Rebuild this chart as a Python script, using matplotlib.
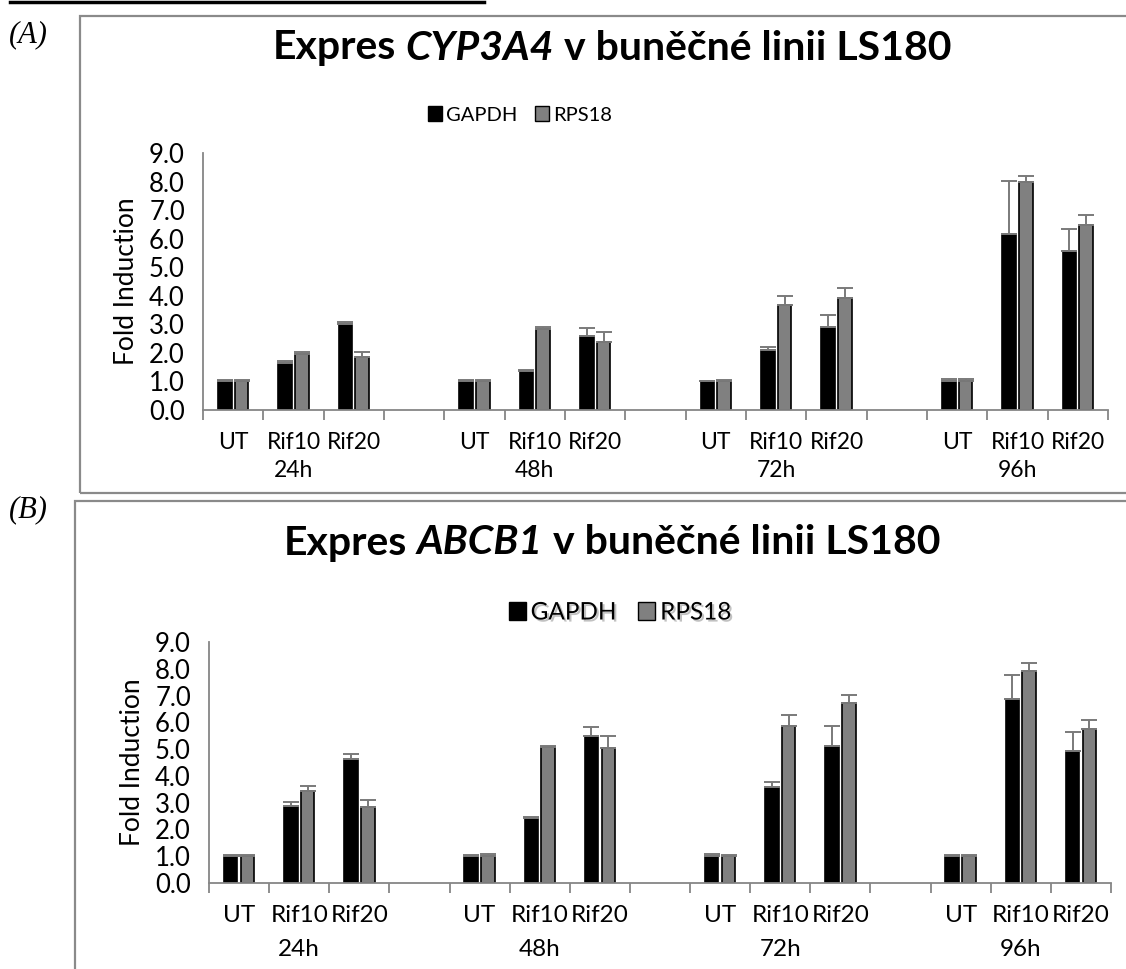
import numpy as np
import matplotlib.pyplot as plt
import matplotlib.patheffects as pe
from matplotlib.patches import Rectangle, Patch
from matplotlib.lines import Line2D

plt.rcParams['font.family'] = ['Lato', 'DejaVu Sans']

W, H = 1126, 969

treatments = ['UT', 'Rif10', 'Rif20']
times = ['24h', '48h', '72h', '96h']
series = ['GAPDH', 'RPS18']

# panel A - CYP3A4
cyp_gapdh = [1.00, 1.66, 3.01, 1.03, 1.38, 2.60, 1.02, 2.09, 2.91, 1.00, 6.16, 5.58]
cyp_gapdh_err = [0.06, 0.07, 0.08, 0.02, 0.03, 0.28, 0.01, 0.11, 0.43, 0.09, 1.86, 0.77]
cyp_rps18 = [1.02, 1.95, 1.87, 1.03, 2.83, 2.39, 1.03, 3.69, 3.92, 1.03, 7.97, 6.49]
cyp_rps18_err = [0.03, 0.09, 0.15, 0.03, 0.09, 0.35, 0.01, 0.29, 0.34, 0.07, 0.21, 0.34]

# panel B - ABCB1
abc_gapdh = [0.99, 2.89, 4.62, 0.99, 2.42, 5.50, 0.99, 3.58, 5.13, 0.99, 6.88, 4.94]
abc_gapdh_err = [0.07, 0.14, 0.19, 0.06, 0.03, 0.31, 0.10, 0.21, 0.72, 0.06, 0.88, 0.70]
abc_rps18 = [1.02, 3.43, 2.85, 1.02, 5.09, 5.04, 1.02, 5.85, 6.74, 1.02, 7.91, 5.76]
abc_rps18_err = [0.02, 0.21, 0.25, 0.06, 0.03, 0.44, 0.03, 0.42, 0.28, 0.01, 0.31, 0.31]

AXIS = '#868686'
GREY = '#808080'


def fx(px):
    return px / W


def fy(py):
    return 1 - py / H


fig = plt.figure(figsize=(W / 100, H / 100), dpi=100)
renderer = fig.canvas.get_renderer()


def title_parts(cx, cy, gene, size):
    # bold title, gene name in bold italic
    parts = [('Expres', 'normal'), (gene, 'italic'), ('v buněčné linii LS180', 'normal')]
    p1 = fig.text(0, 0, 'a a', fontsize=size, fontweight='bold')
    p2 = fig.text(0, 0, 'aa', fontsize=size, fontweight='bold')
    space = p1.get_window_extent(renderer).width - p2.get_window_extent(renderer).width
    p1.remove()
    p2.remove()
    texts, widths = [], []
    for s, style in parts:
        t = fig.text(0, fy(cy), s, fontsize=size, fontweight='bold', fontstyle=style,
                     ha='left', va='center')
        texts.append(t)
        widths.append(t.get_window_extent(renderer).width)
    x = cx - (sum(widths) + space * (len(parts) - 1)) / 2
    for t, w in zip(texts, widths):
        t.set_x(fx(x))
        x += w + space


def panel(left, right, top, bottom, gapdh, gerr, rps, rerr, gene,
          title_y, group_y, xfont, legend_x, legend_y, legend_size, shadow):
    ax = fig.add_axes([fx(left), fy(bottom), fx(right - left), (bottom - top) / H])
    ncat = 4 * len(times) - 1
    pos = np.array([4 * g + t for g in range(len(times)) for t in range(len(treatments))])
    w = 0.225
    off = 0.14
    ax.bar(pos - off, gapdh, w, color='black', edgecolor='black', linewidth=1.2, zorder=2)
    ax.bar(pos + off, rps, w, color=GREY, edgecolor='black', linewidth=1.2, zorder=2)
    ax.errorbar(pos - off, gapdh, yerr=[np.zeros(len(gerr)), gerr], fmt='none',
                ecolor='#7a7a7a', elinewidth=1.4, capsize=6, capthick=1.4, zorder=3)
    ax.errorbar(pos + off, rps, yerr=[np.zeros(len(rerr)), rerr], fmt='none',
                ecolor='#7a7a7a', elinewidth=1.4, capsize=6, capthick=1.4, zorder=3)

    ax.set_xlim(-0.5, ncat - 0.5)
    ax.set_ylim(0, 9)
    ax.set_yticks(np.arange(0, 10, 1))
    ax.set_yticklabels(['%.1f' % v for v in np.arange(0, 10, 1)], fontsize=18.5)
    ax.tick_params(axis='y', length=0, pad=13)

    ax.set_xticks(np.arange(-0.5, ncat, 1))
    ax.set_xticklabels([])
    ax.tick_params(axis='x', which='major', length=7, width=1.3, color=AXIS, direction='out')
    ax.set_xticks(pos, minor=True)
    ax.set_xticklabels(treatments * len(times), minor=True, fontsize=xfont)
    ax.tick_params(axis='x', which='minor', length=0, pad=16)

    for i, tm in enumerate(times):
        ax.text(4 * i + 1, -(group_y - bottom) / (bottom - top), tm, fontsize=xfont,
                ha='center', va='center', transform=ax.get_xaxis_transform())

    for s in ['top', 'right']:
        ax.spines[s].set_visible(False)
    for s in ['left', 'bottom']:
        ax.spines[s].set_color(AXIS)
        ax.spines[s].set_linewidth(1.3)

    fig.text(fx(left - 76), fy((top + bottom) / 2), 'Fold Induction', fontsize=19,
             rotation=90, ha='center', va='center')

    title_parts(612, title_y, gene, 29.5)

    handles = [Patch(facecolor='black', edgecolor='black', label=series[0]),
               Patch(facecolor=GREY, edgecolor='black', label=series[1])]
    leg = ax.legend(handles=handles, loc='center', bbox_to_anchor=(fx(legend_x), fy(legend_y)),
                    bbox_transform=fig.transFigure, ncol=2, frameon=False,
                    fontsize=legend_size, handlelength=0.7, handleheight=0.7,
                    handletextpad=0.2, columnspacing=0.9, borderpad=0)
    if shadow:
        for t in leg.get_texts():
            t.set_path_effects([pe.withSimplePatchShadow(offset=(1.5, -1.5),
                                                         shadow_rgbFace='#999999', alpha=0.6)])
    return ax


panel(203, 1108, 153, 410, cyp_gapdh, cyp_gapdh_err, cyp_rps18, cyp_rps18_err,
      'CYP3A4', 48, 470, 16.5, 520, 115, 14.5, False)
panel(209, 1111, 642, 883, abc_gapdh, abc_gapdh_err, abc_rps18, abc_rps18_err,
      'ABCB1', 543, 950, 17.5, 620, 613, 17.5, True)

# chart frames and the rule on top
fig.add_artist(Rectangle((fx(80), fy(493)), fx(1200 - 80), (493 - 16) / H, fill=False,
                         edgecolor='#8a8a8a', linewidth=1.6, transform=fig.transFigure))
fig.add_artist(Rectangle((fx(75), fy(1100)), fx(1200 - 75), (1100 - 501) / H, fill=False,
                         edgecolor='#8a8a8a', linewidth=1.6, transform=fig.transFigure))
fig.add_artist(Line2D([fx(10), fx(484)], [fy(2), fy(2)], color='black', linewidth=2.5,
                      transform=fig.transFigure))

fig.text(fx(28), fy(35), '(A)', family='Liberation Serif', fontstyle='italic', fontsize=22,
         ha='center', va='center')
fig.text(fx(28), fy(510), '(B)', family='Liberation Serif', fontstyle='italic', fontsize=22,
         ha='center', va='center')

fig.savefig('out.png', dpi=100)
